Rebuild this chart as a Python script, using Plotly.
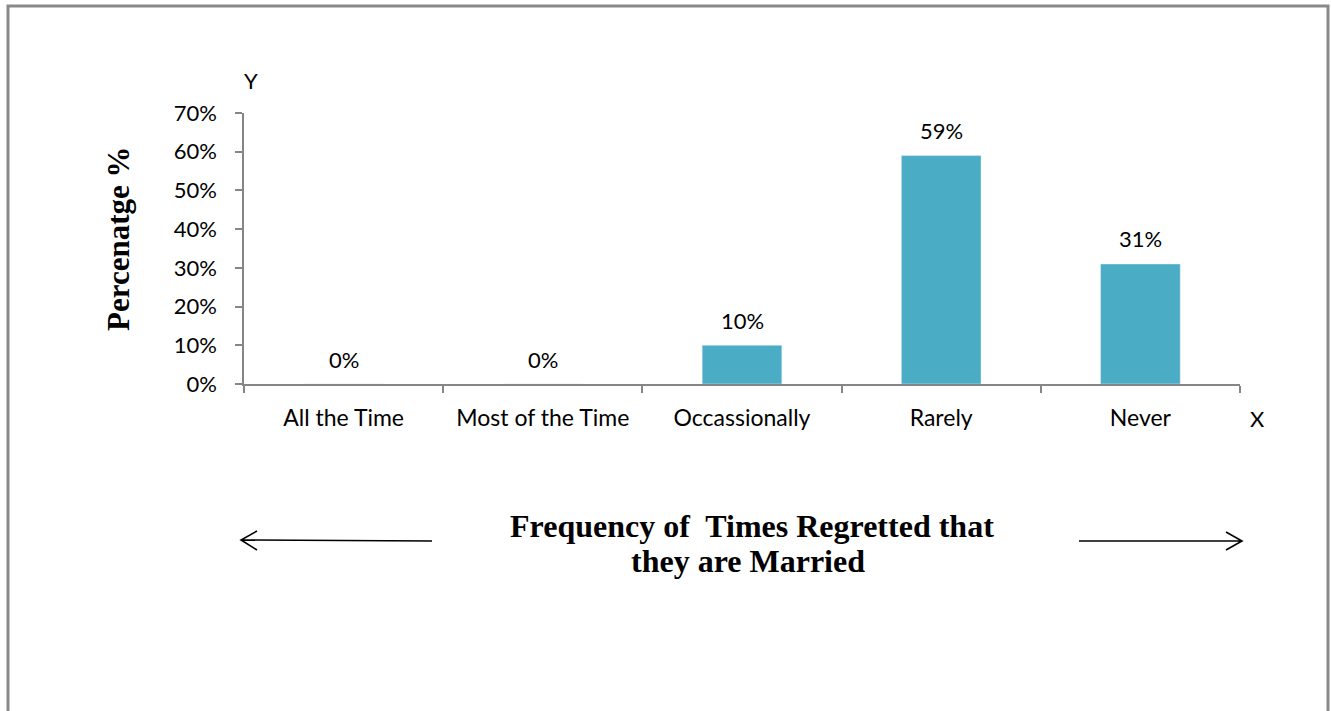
import plotly.graph_objects as go

categories = ["All the Time", "Most of the Time", "Occassionally", "Rarely", "Never"]
percentages = [0, 0, 10, 59, 31]
value_labels = ["0%", "0%", "10%", "59%", "31%"]
y_ticks = [0, 10, 20, 30, 40, 50, 60, 70]
y_tick_labels = ["0%", "10%", "20%", "30%", "40%", "50%", "60%", "70%"]

W, H = 1331, 711
L, R, T, B = 244, 91, 113, 327
PW, PH = W - L - R, H - T - B


def px(x):
    return (x - L) / PW


def py(y):
    return (H - B - y) / PH


BODY = "Lato, 'Open Sans', sans-serif"
SERIF = "'Liberation Serif', 'Times New Roman', serif"

fig = go.Figure(go.Bar(
    x=categories, y=percentages, marker_color="#4BACC6",
    width=0.4, hoverinfo="skip",
))

for cat, val, lab in zip(categories, percentages, value_labels):
    fig.add_annotation(x=cat, y=val, text=lab, showarrow=False, yshift=25,
                       xanchor="center", yanchor="middle",
                       font=dict(family=BODY, size=22, color="#000"))

# outer frame (open at the bottom)
frame = "M {0},{3} L {0},{1} L {2},{1} L {2},{3}".format(px(8), py(6), px(1328), py(720))
fig.add_shape(type="path", path=frame, xref="paper", yref="paper",
              line=dict(color="#898989", width=3))

# direction arrows beside the axis title
left_arrow = "M {},{} L {},{} M {},{} L {},{} L {},{}".format(
    px(432), py(541), px(241), py(540),
    px(257), py(531), px(241), py(540), px(257), py(550))
right_arrow = "M {},{} L {},{} M {},{} L {},{} L {},{}".format(
    px(1079), py(541), px(1242), py(541),
    px(1226), py(532), px(1242), py(541), px(1226), py(550))
for p in (left_arrow, right_arrow):
    fig.add_shape(type="path", path=p, xref="paper", yref="paper",
                  line=dict(color="#000", width=1.6))


def label(x, y, text, font, **kw):
    fig.add_annotation(x=px(x), y=py(y), xref="paper", yref="paper", showarrow=False,
                       xanchor="center", yanchor="middle", text=text, font=font, **kw)


title_font = dict(family=SERIF, size=32, color="#000")
label(752, 526, "<b>Frequency of&nbsp; Times Regretted that</b>", title_font)
label(748, 561, "<b>they are Married</b>", title_font)
label(118, 239, "<b>Percenatge %</b>", dict(family=SERIF, size=31, color="#000"),
      textangle=-90)
label(251, 80, "Y", dict(family=BODY, size=22, color="#000"))
label(1257, 418, "X", dict(family=BODY, size=22, color="#000"))

fig.update_layout(
    width=W, height=H, margin=dict(l=L, r=R, t=T, b=B, autoexpand=False),
    paper_bgcolor="white", plot_bgcolor="white", showlegend=False,
    font=dict(family=BODY, size=20, color="#000"),
)
fig.update_xaxes(
    showline=True, linecolor="#868686", linewidth=1.5, showgrid=False,
    ticks="outside", ticklen=7, tickcolor="#868686", tickwidth=1.5,
    tickson="boundaries", ticklabelstandoff=13,
    tickfont=dict(family=BODY, size=23, color="#000"), fixedrange=True,
)
fig.update_yaxes(
    range=[0, 70], tickvals=y_ticks, ticktext=y_tick_labels,
    showline=True, linecolor="#868686", linewidth=1.5, showgrid=False, zeroline=False,
    ticks="outside", ticklen=7, tickcolor="#868686", tickwidth=1.5,
    ticklabelstandoff=14,
    tickfont=dict(family=BODY, size=22, color="#000"), fixedrange=True,
)

fig.write_html("out.html")
